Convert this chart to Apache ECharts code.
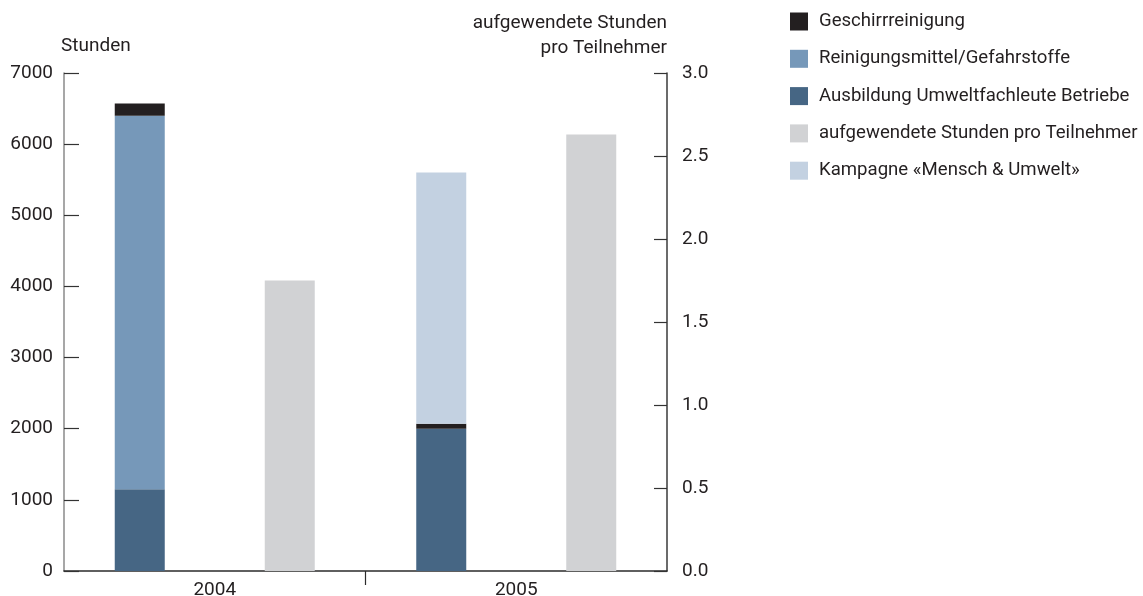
<!DOCTYPE html>
<html>
<head>
<meta charset="utf-8">
<script src="https://cdn.jsdelivr.net/npm/echarts@6/dist/echarts.min.js"></script>
<style>
  html, body { margin: 0; padding: 0; background: #ffffff; }
  #chart { width: 1143px; height: 596px; }
</style>
</head>
<body>
<div id="chart"></div>
<script>
// Years on the category axis
const years = ['2004', '2005'];

// Hours (left axis), stacked
const ausbildung = [1150, 2000];
const reinigungsmittel = [5250, 0];
const geschirr = [170, 70];
const kampagne = [0, 3530];

// Hours per participant (right axis)
const stundenProTeilnehmer = [1.75, 2.63];

// Legend order
const legendOrder = [
  'Geschirrreinigung',
  'Reinigungsmittel/Gefahrstoffe',
  'Ausbildung Umweltfachleute Betriebe',
  'aufgewendete Stunden pro Teilnehmer',
  'Kampagne «Mensch & Umwelt»'
];

const FONT = 'Roboto';
const TEXT = '#231f20';
const FS = 19;

const chart = echarts.init(document.getElementById('chart'), null, { renderer: 'canvas' });

chart.setOption({
  animation: false,
  backgroundColor: '#ffffff',
  textStyle: { fontFamily: FONT, color: TEXT },
  grid: { left: 64, right: 476, top: 73, bottom: 25, containLabel: false, outerBoundsMode: 'none' },
  legend: {
    orient: 'vertical',
    left: 790,
    top: 12,
    padding: 0,
    itemWidth: 18,
    itemHeight: 18,
    itemGap: 18.3,
    icon: 'rect',
    data: legendOrder,
    textStyle: { fontFamily: FONT, fontSize: 18.6, color: TEXT, padding: [0, 0, 0, 6] }
  },
  xAxis: [
    {
      type: 'category',
      data: years,
      position: 'bottom',
      axisLine: { show: true, lineStyle: { color: '#2b2b2b', width: 1.5 } },
      axisTick: { show: false },
      axisLabel: { fontFamily: FONT, fontSize: FS, color: TEXT, margin: 10 },
      splitLine: { show: false }
    },
    {
      // separator tick between the two years
      type: 'value',
      min: 0,
      max: 2,
      position: 'bottom',
      axisLine: { show: false },
      axisTick: { show: true, inside: false, length: 14, customValues: [1], lineStyle: { color: '#2b2b2b', width: 1.2 } },
      axisLabel: { show: false },
      splitLine: { show: false }
    }
  ],
  yAxis: [
    {
      type: 'value',
      min: 0,
      max: 7000,
      interval: 1000,
      position: 'left',
      name: 'Stunden',
      nameLocation: 'end',
      nameGap: 27,
      nameTextStyle: { fontFamily: FONT, fontSize: FS, color: TEXT, align: 'left', verticalAlign: 'middle', padding: [0, 0, 0, -3] },
      axisLine: { show: true, lineStyle: { color: '#8a8a8a', width: 1.5 } },
      axisTick: { show: true, inside: true, length: 15, lineStyle: { color: '#333333', width: 1.2 } },
      axisLabel: { fontFamily: FONT, fontSize: FS, color: TEXT, margin: 11, formatter: v => String(v) },
      splitLine: { show: false }
    },
    {
      type: 'value',
      min: 0,
      max: 3,
      interval: 0.5,
      position: 'right',
      name: 'aufgewendete Stunden\npro Teilnehmer',
      nameLocation: 'end',
      nameGap: 37,
      nameTextStyle: { fontFamily: FONT, fontSize: FS, color: TEXT, align: 'right', verticalAlign: 'middle', lineHeight: 25 },
      axisLine: { show: true, lineStyle: { color: '#3a3a3a', width: 1.5 } },
      axisTick: { show: true, inside: true, length: 13, lineStyle: { color: '#333333', width: 1.2 } },
      axisLabel: { fontFamily: FONT, fontSize: FS, color: TEXT, margin: 15, formatter: v => v.toFixed(1) },
      splitLine: { show: false }
    }
  ],
  series: [
    {
      name: 'Ausbildung Umweltfachleute Betriebe',
      type: 'bar', stack: 'stunden', yAxisIndex: 0,
      barWidth: 50, barGap: '200%',
      itemStyle: { color: '#466684' },
      data: ausbildung
    },
    {
      name: 'Reinigungsmittel/Gefahrstoffe',
      type: 'bar', stack: 'stunden', yAxisIndex: 0,
      barWidth: 50,
      itemStyle: { color: '#7698b9' },
      data: reinigungsmittel
    },
    {
      name: 'Geschirrreinigung',
      type: 'bar', stack: 'stunden', yAxisIndex: 0,
      barWidth: 50,
      itemStyle: { color: '#231f20' },
      data: geschirr
    },
    {
      name: 'Kampagne «Mensch & Umwelt»',
      type: 'bar', stack: 'stunden', yAxisIndex: 0,
      barWidth: 50,
      itemStyle: { color: '#c3d1e1' },
      data: kampagne
    },
    {
      name: 'aufgewendete Stunden pro Teilnehmer',
      type: 'bar', yAxisIndex: 1,
      barWidth: 50, barGap: '200%',
      itemStyle: { color: '#d1d2d4' },
      data: stundenProTeilnehmer
    }
  ]
});
</script>
</body>
</html>
